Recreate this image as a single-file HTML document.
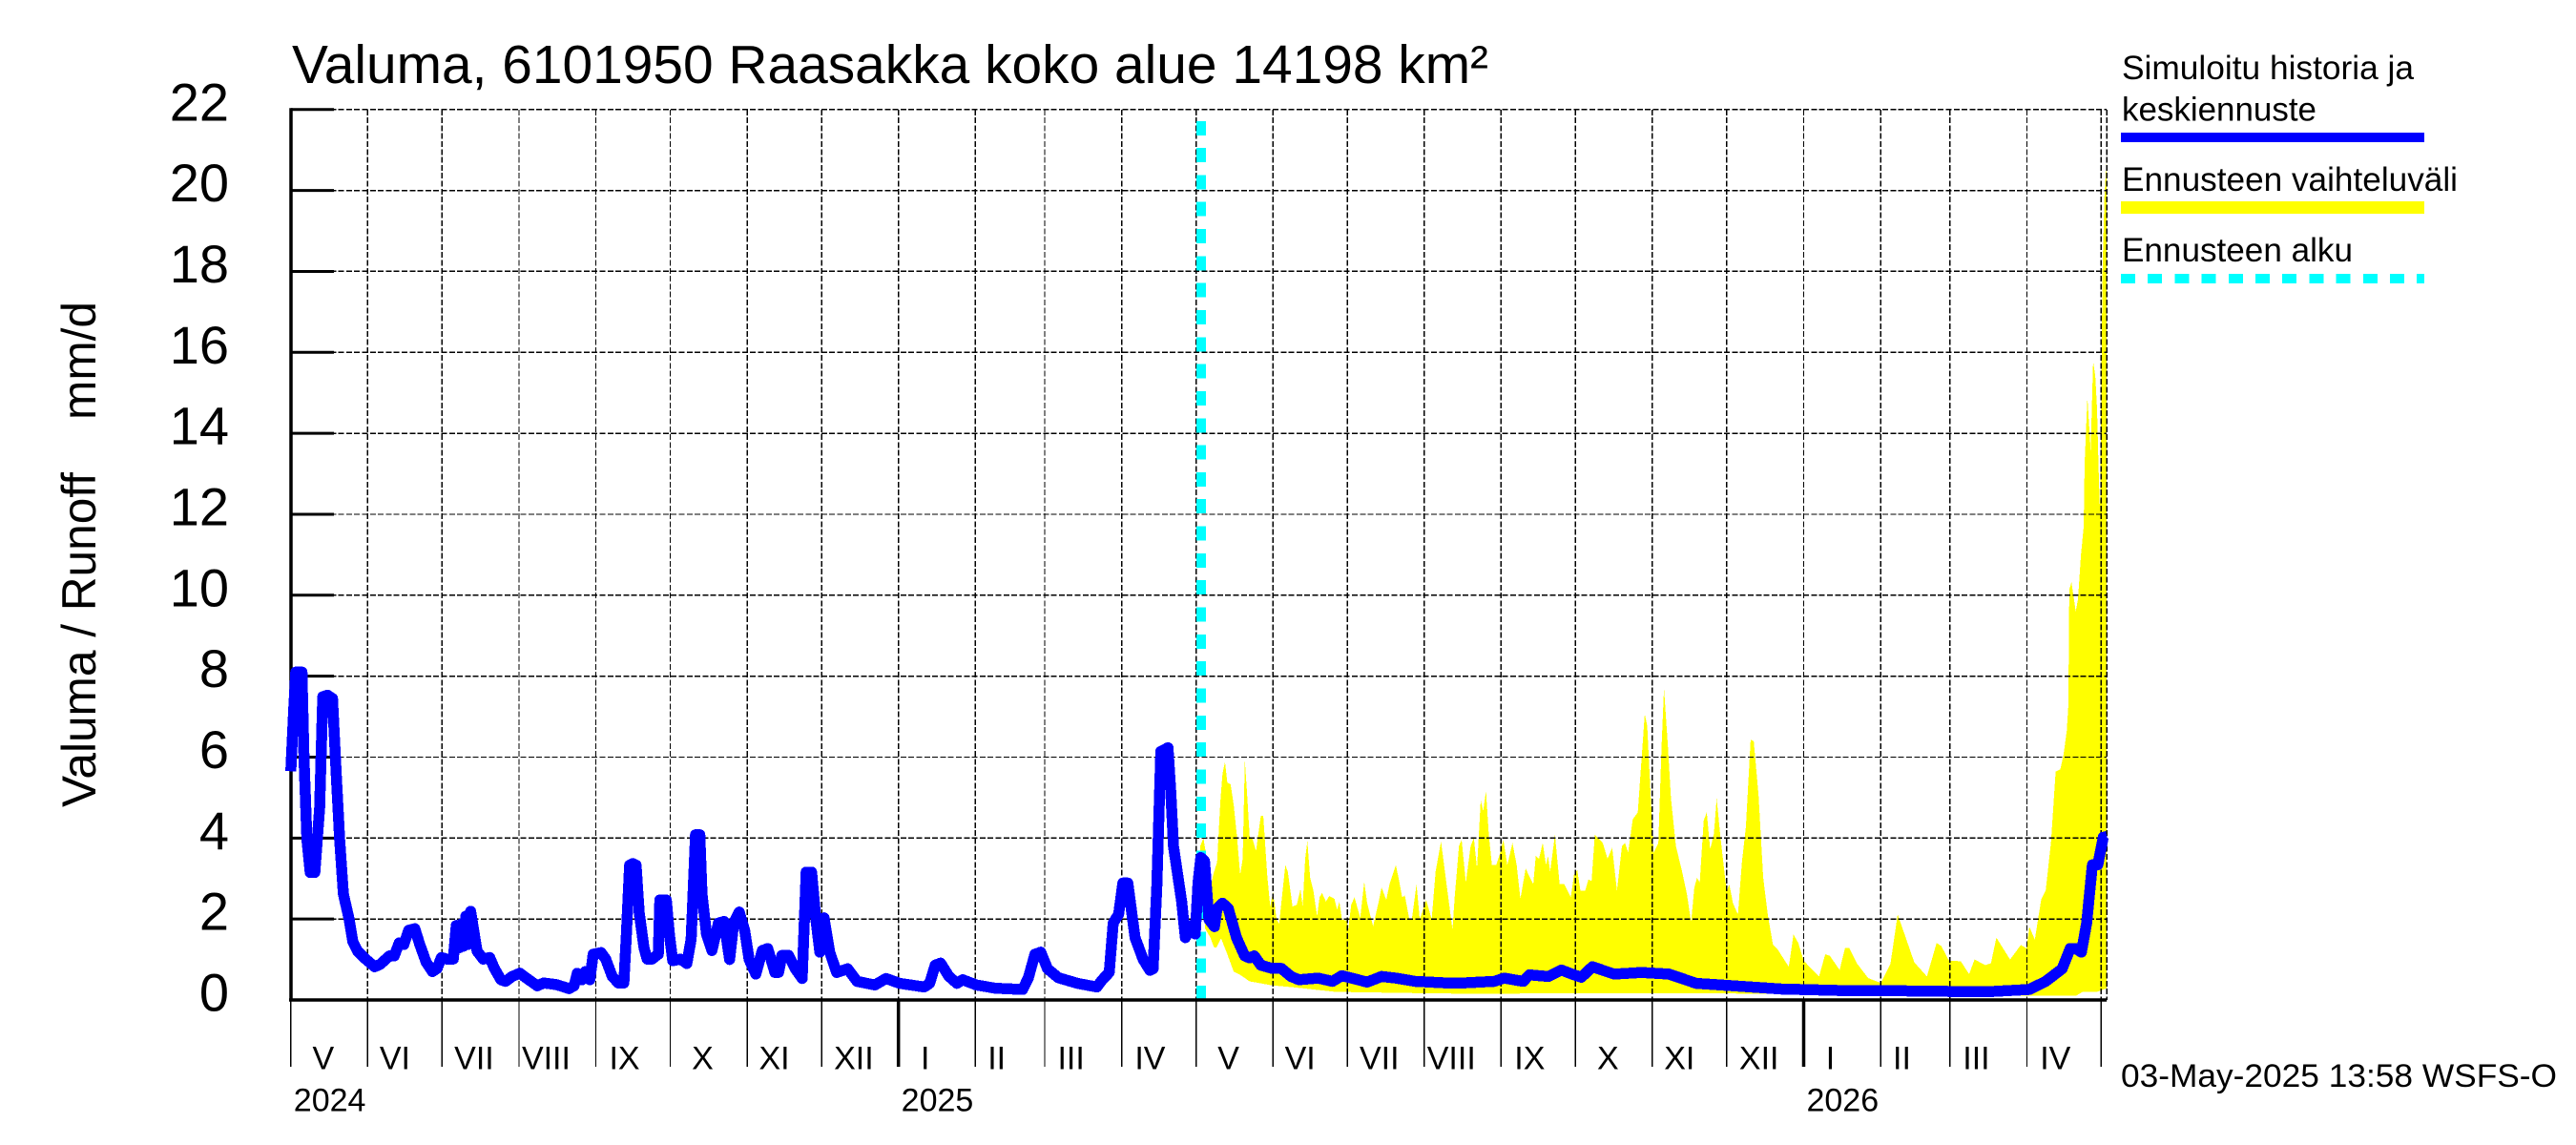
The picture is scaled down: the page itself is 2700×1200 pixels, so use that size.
<!DOCTYPE html>
<html lang="fi">
<head>
<meta charset="utf-8">
<title>Valuma 6101950 Raasakka</title>
<style>
html,body{margin:0;padding:0;background:#fff;width:2700px;height:1200px;overflow:hidden}
svg{display:block;position:absolute;left:0;top:0}
text{font-family:"Liberation Sans",Arial,sans-serif;fill:#000;white-space:pre}
</style>
</head>
<body>
<svg id="chart" xmlns="http://www.w3.org/2000/svg" width="2700" height="1200" viewBox="0 0 2700 1200">
  <rect x="0" y="0" width="2700" height="1200" fill="#fff"/>
  <text x="306" y="87" font-size="56.6" textLength="1254" lengthAdjust="spacingAndGlyphs">Valuma, 6101950 Raasakka koko alue 14198 km²</text>
  <text transform="translate(100,846) rotate(-90)" font-size="50" textLength="530" lengthAdjust="spacingAndGlyphs" xml:space="preserve">Valuma / Runoff    mm/d</text>
  <g id="forecast-layer"></g>
  <g id="grid-layer"></g>
  <g id="start-layer"></g>
  <g id="axis-layer"></g>
  <g id="runoff-layer"></g>
  <g>
    <text x="2224" y="83" font-size="35" textLength="306" lengthAdjust="spacingAndGlyphs">Simuloitu historia ja</text>
    <text x="2224" y="126.5" font-size="35" textLength="204" lengthAdjust="spacingAndGlyphs">keskiennuste</text>
    <rect x="2223" y="139" width="318" height="10" fill="#0000ff"/>
    <text x="2224" y="200" font-size="35" textLength="352" lengthAdjust="spacingAndGlyphs">Ennusteen vaihteluväli</text>
    <rect x="2223" y="211" width="318" height="13" fill="#ffff00"/>
    <text x="2224" y="274" font-size="35" textLength="242" lengthAdjust="spacingAndGlyphs">Ennusteen alku</text>
    <line x1="2223" y1="292" x2="2541" y2="292" stroke="#00ffff" stroke-width="10" stroke-dasharray="15 13.2" shape-rendering="crispEdges"/>
  </g>
  <text x="2223" y="1139" font-size="34" textLength="457" lengthAdjust="spacingAndGlyphs">03-May-2025 13:58 WSFS-O</text>
</svg>
<script>
const yTicks = [0,2,4,6,8,10,12,14,16,18,20,22];
const monthLabels = ["V","VI","VII","VIII","IX","X","XI","XII","I","II","III","IV","V","VI","VII","VIII","IX","X","XI","XII","I","II","III","IV"];
const monthStartDays = [0,31,61,92,123,153,184,214,245,276,304,335,365,396,426,457,488,518,549,579,610,641,669,700,730];
const yearLabels = ["2024","2025","2026"];
const yearStartDays = [0,245,610];
const lastDay = 732;
const forecastStartDay = 367;

const runoffDays = [0,1.2,2,4.5,5.3,6.5,7.8,9.7,11.6,12.9,14.8,16.8,18.4,19.7,21.2,23.5,25,27,30.2,33.8,36,39.8,41.7,43.7,45.6,47.5,50,52,54.6,57.1,59,60.7,62.9,65.5,66.7,68,68.7,69.7,70.6,71.5,72.5,75.1,77.6,80.2,82.1,84.7,86.6,89.2,92.4,95,99.4,102,107.1,112.2,114.2,115.5,117.4,118.7,120.6,121.9,125.1,127,129.6,132.1,134.3,135.3,136.6,137.9,139.2,140.5,142.4,143.7,145.6,148.2,148.8,151.4,152.7,154,157.1,159.7,161.4,163.2,164.9,165.8,167.6,169.8,172.4,174.7,176.9,178.6,180.8,183,184.8,187.5,190.1,192.3,195.2,196.7,198,200.7,203.4,206.2,207.8,210,211.7,213.3,215,217.3,220.1,224.5,228.3,235.5,240,245.5,255.4,257.6,259.8,262,265.3,268.6,270.9,276.4,284.1,295.1,297.4,300,302.4,305.1,309.5,317.2,325,327.2,330,331.6,333.8,335.5,337.5,340.4,343.7,346.4,347.7,349.2,350.8,353.7,354.8,355.9,359.2,360.7,363.6,364.7,365.8,366.9,368.4,370.2,372.4,373.5,375.7,378,381.3,384.6,386.6,388.5,391.1,395.6,399.4,403.3,406.5,414.2,420,423.8,434,439.8,445.6,453.3,466.1,472.5,485.3,489.2,496.9,499.4,507.1,512.3,517.4,520.4,524.8,533.6,544.6,555.7,566.7,579,600.8,626.4,641.3,671.3,683.3,701,707.6,714.2,717.5,719.7,722,724.1,726.4,728.6,730.8,732.3];
const runoffValues = [5.65,7.2,8.1,8.1,6,3.96,3.15,3.15,4.74,7.49,7.53,7.45,5.5,3.96,2.62,2,1.44,1.2,1.01,0.82,0.88,1.09,1.09,1.41,1.37,1.72,1.76,1.37,0.93,0.7,0.78,1.05,1.01,1.01,1.84,1.29,1.88,1.33,2.07,1.37,2.19,1.21,1.01,1.05,0.78,0.5,0.46,0.58,0.66,0.54,0.35,0.42,0.38,0.28,0.35,0.66,0.5,0.7,0.5,1.13,1.17,1.01,0.58,0.42,0.42,1.6,3.33,3.37,3.33,2.15,1.29,1.01,1.01,1.13,2.47,2.47,1.6,0.97,1.01,0.9,1.5,4.08,4.08,2.62,1.63,1.22,1.9,1.94,1,1.9,2.17,1.72,1,0.64,1.22,1.27,0.68,0.68,1.1,1.1,0.77,0.53,3.16,3.16,2,1.18,2.03,1.18,0.68,0.77,0.46,0.37,0.53,0.41,0.32,0.41,0.86,0.91,0.59,0.41,0.5,0.37,0.29,0.26,0.55,1.13,1.18,0.77,0.55,0.41,0.32,0.5,0.68,1.9,2.12,2.89,2.89,1.54,1,0.73,0.77,2.8,6.14,6.23,5.15,3.79,2.44,1.54,1.85,1.63,2.89,3.52,3.43,1.99,1.81,2.26,2.39,2.26,1.54,1.09,1.04,1.09,0.86,0.78,0.78,0.58,0.5,0.54,0.46,0.6,0.44,0.58,0.54,0.46,0.42,0.42,0.46,0.54,0.46,0.62,0.58,0.74,0.62,0.56,0.82,0.64,0.68,0.64,0.41,0.36,0.27,0.23,0.23,0.21,0.2,0.26,0.46,0.77,1.27,1.27,1.18,1.9,3.34,3.34,4.02,4.04];

const upperDays = [366.7,368,369.3,370.6,371.9,373.5,374.8,375.7,376.7,377.6,378.9,380.2,381.5,382.8,383.8,384.7,385.6,386.6,387.9,389.2,391.1,392.1,393.7,394.9,396,397.5,398.5,399.4,401,402,403.9,405.6,407.1,408,409,409.9,411,412.3,413.8,414.8,415.8,417.4,418.7,420.8,421.9,422.8,423.8,425.7,426.4,427.6,428.9,431.2,432.8,434,436.4,438.5,439.8,441.7,443,445.6,446.9,448.1,449.2,451,452,453.9,455.2,457.8,460,461.6,463.8,465.5,468.4,469.3,471,472.1,473.8,475.7,477,478.3,479.8,480.8,481.9,483,484.3,486,487.3,488.9,490.5,492.6,494.3,495.8,497.9,499.4,501,502,503.3,504.8,506.1,506.9,507.8,509.7,511.6,513.5,516.1,517.4,518.7,520,521.9,523.2,524.5,525.8,529,530.9,532.8,534.7,536.7,538,539.2,541.1,543.1,544.4,545.9,546.9,548.2,549.5,551.4,552.7,553.7,555.3,556.5,558.5,561,562.9,564.6,565.9,567,568.1,569.7,570.9,572.3,573.8,574.9,576.4,578.3,579,580,581.5,583.5,585.1,586.7,588.6,589.9,591.8,593.7,595.6,597.6,599.5,604,605.9,607.8,610,616.2,618.7,620.6,624.5,626.7,628.3,631.5,636,641.1,645,647.9,650.8,654.6,659.7,663.6,665.5,668.7,671.3,673.4,676.7,678.9,683.3,685.5,687.7,693.2,697.6,699.9,701,703.2,705.8,707.6,709.7,711.6,713.5,714.8,716.1,716.7,717.1,718,719.7,720.6,721.8,722.9,723.3,724.4,725.7,726.7,727.6,728.3,728.9,729.5,730.5,731.3,732.2];
const upperValues = [3.8,4,3.49,2.7,3.09,3.41,4.9,5.6,5.88,5.37,5.33,4.82,4.04,3.09,3.49,5.92,5.06,4.04,3.96,3.68,4.55,4.55,3.09,2.31,2.66,1.99,1.88,2.39,3.33,3.17,2.31,2.35,2.74,2.31,3.49,3.92,3.02,2.7,2.07,2.54,2.64,2.43,2.57,2.5,2.23,2.43,1.99,1.96,1.76,2.35,2.54,2.03,2.92,2.39,1.82,2.39,2.78,2.47,2.86,3.33,2.94,2.54,2.58,1.99,1.99,2.86,1.99,2.47,1.99,3.17,3.92,3.09,1.74,2.54,3.8,3.96,2.9,3.8,4,3.25,4.94,4.66,5.17,4.11,3.33,3.33,3.56,3.96,3.33,3.88,3.33,2.5,3.25,3.05,2.86,3.56,3.49,3.88,3.33,3.56,3.17,4.08,2.86,2.86,2.54,3.09,3.21,2.7,2.7,2.98,2.94,4.08,3.88,3.49,3.76,2.7,3.8,3.88,3.64,4.47,4.63,5.76,7.06,6.78,5.21,3.64,3.88,6.23,7.7,6.23,4.98,3.8,3.17,2.62,1.92,2.78,3.02,2.9,4.43,4.64,3.72,4.11,4.98,4.04,3.02,2.7,2.86,2.39,2.11,3.41,4.27,6.43,6.39,5.06,3.02,2.07,1.37,1.25,0.82,1.62,1.41,0.97,0.58,1.13,1.09,0.74,1.29,1.29,0.9,0.54,0.42,0.9,2.11,1.6,0.93,0.58,1.41,1.33,0.96,0.97,0.95,0.64,1,0.86,0.91,1.54,1,1.36,1.27,1.81,1.49,2.49,2.71,3.89,5.64,5.7,6.06,6.66,7.26,10.14,10.32,9.6,9.9,10.99,11.7,13.27,14.89,13.57,15.79,15.4,14.6,13.15,12,18,19.9,20.8];

const lowerDays = [366.7,368.7,370.6,372.3,373.1,375.1,377.6,380.2,382.8,386.6,395.6,404.6,421.2,453.3,478.9,517.4,560,600,640,690,710,720,722.5,728.3,732.2];
const lowerValues = [3.3,1.76,1.56,1.3,1.29,1.52,1.13,0.7,0.62,0.46,0.36,0.31,0.2,0.17,0.15,0.17,0.17,0.15,0.13,0.11,0.11,0.11,0.2,0.2,0.29];

const SVG_NS = "http://www.w3.org/2000/svg";
function xAxis(day){ return 304.8 + day * 2.5995; }
function yAxis(value){ return 1048 - value * 42.42; }
const monthLabelOffsets = {V:34,VI:28.5,VII:33.6,VIII:28.5,IX:30,X:34,XI:28.4,XII:33.8,I:28,II:22.4,III:27.6,IV:29.8};

function make(tag, parent){
  const el = document.createElementNS(SVG_NS, tag);
  parent.appendChild(el);
  return el;
}
const forecastLayer = document.getElementById("forecast-layer");
const gridLayer = document.getElementById("grid-layer");
const startLayer = document.getElementById("start-layer");
const axisLayer = document.getElementById("axis-layer");
const runoffLayer = document.getElementById("runoff-layer");
const DAY_END = lastDay + 0.2;

/* forecast range */
const rangePts = [];
upperDays.forEach(function(d,i){ rangePts.push(xAxis(d).toFixed(1)+","+yAxis(upperValues[i]).toFixed(1)); });
for(let i = lowerDays.length-1; i >= 0; i--){ rangePts.push(xAxis(lowerDays[i]).toFixed(1)+","+yAxis(lowerValues[i]).toFixed(1)); }
const rangePoly = make("polygon", forecastLayer);


rangePoly.setAttribute("points", rangePts.join(" "));
rangePoly.setAttribute("fill", "#ffff00");
rangePoly.setAttribute("shape-rendering", "crispEdges");

/* grid */
yTicks.forEach(function(v){
  const g = make("line", gridLayer);
  
  
  g.setAttribute("x1", xAxis(0));
  g.setAttribute("x2", xAxis(DAY_END));
  g.setAttribute("y1", yAxis(v));
  g.setAttribute("y2", yAxis(v));
  g.setAttribute("stroke", "#000");
  g.setAttribute("stroke-width", "1.4");
  g.setAttribute("stroke-dasharray", "6 2.3");
  g.setAttribute("shape-rendering", "crispEdges");
});
monthStartDays.concat([DAY_END]).forEach(function(d){
  const g = make("line", gridLayer);
  
  
  g.setAttribute("x1", xAxis(d));
  g.setAttribute("x2", xAxis(d));
  g.setAttribute("y1", yAxis(22));
  g.setAttribute("y2", yAxis(0));
  g.setAttribute("stroke", "#000");
  g.setAttribute("stroke-width", "1.4");
  g.setAttribute("stroke-dasharray", "6 2.3");
  g.setAttribute("shape-rendering", "crispEdges");
});

/* forecast start marker */
const startLine = make("line", startLayer);


startLine.setAttribute("x1", xAxis(forecastStartDay));
startLine.setAttribute("x2", xAxis(forecastStartDay));
startLine.setAttribute("y1", yAxis(0));
startLine.setAttribute("y2", "126.7");
startLine.setAttribute("stroke", "#00ffff");
startLine.setAttribute("stroke-width", "10");
startLine.setAttribute("stroke-dasharray", "15 13.32");
startLine.setAttribute("shape-rendering", "crispEdges");

/* axes */
const yAxisLine = make("line", axisLayer);


yAxisLine.setAttribute("x1", "305");
yAxisLine.setAttribute("x2", "305");
yAxisLine.setAttribute("y1", yAxis(22) - 1.5);
yAxisLine.setAttribute("y2", yAxis(0) + 1.5);
yAxisLine.setAttribute("stroke", "#000");
yAxisLine.setAttribute("stroke-width", "3.5");
const xAxisLine = make("line", axisLayer);


xAxisLine.setAttribute("x1", "303");
xAxisLine.setAttribute("x2", xAxis(DAY_END));
xAxisLine.setAttribute("y1", yAxis(0));
xAxisLine.setAttribute("y2", yAxis(0));
xAxisLine.setAttribute("stroke", "#000");
xAxisLine.setAttribute("stroke-width", "3.5");

yTicks.forEach(function(v){
  const t = make("line", axisLayer);
  
  
  t.setAttribute("x1", "305");
  t.setAttribute("x2", "350");
  t.setAttribute("y1", yAxis(v));
  t.setAttribute("y2", yAxis(v));
  t.setAttribute("stroke", "#000");
  t.setAttribute("stroke-width", "3");
  const l = make("text", axisLayer);
  
  
  l.setAttribute("x", "240");
  l.setAttribute("y", yAxis(v) + 11.5);
  l.setAttribute("text-anchor", "end");
  l.setAttribute("font-size", "56");
  l.textContent = String(v);
});
monthStartDays.forEach(function(d){
  const t = make("line", axisLayer);
  
  
  t.setAttribute("x1", xAxis(d));
  t.setAttribute("x2", xAxis(d));
  t.setAttribute("y1", yAxis(0));
  t.setAttribute("y2", "1118");
  t.setAttribute("stroke", "#000");
  t.setAttribute("stroke-width", "1.4");
  t.setAttribute("shape-rendering", "crispEdges");
});
monthLabels.forEach(function(label,i){
  const l = make("text", axisLayer);
  
  
  l.setAttribute("x", xAxis(monthStartDays[i]) + monthLabelOffsets[label]);
  l.setAttribute("y", "1120.5");
  l.setAttribute("text-anchor", "middle");
  l.setAttribute("font-size", "34");
  l.textContent = label;
});
yearLabels.forEach(function(label,i){
  if(i > 0){
    const t = make("line", axisLayer);
    
    
    t.setAttribute("x1", xAxis(yearStartDays[i]));
    t.setAttribute("x2", xAxis(yearStartDays[i]));
    t.setAttribute("y1", yAxis(0));
    t.setAttribute("y2", "1118");
    t.setAttribute("stroke", "#000");
    t.setAttribute("stroke-width", "3.5");
  }
  const l = make("text", axisLayer);
  
  
  l.setAttribute("x", xAxis(yearStartDays[i]) + 3);
  l.setAttribute("y", "1164.5");
  l.setAttribute("font-size", "34");
  l.textContent = label;
});

/* runoff line */
const runoffPts = runoffDays.map(function(d,i){ return xAxis(d).toFixed(1)+","+yAxis(runoffValues[i]).toFixed(1); });
const runoffLine = make("polyline", runoffLayer);


runoffLine.setAttribute("points", runoffPts.join(" "));
runoffLine.setAttribute("fill", "none");
runoffLine.setAttribute("stroke", "#0000ff");
runoffLine.setAttribute("stroke-width", "11.5");
runoffLine.setAttribute("stroke-linejoin", "round");
runoffLine.setAttribute("stroke-linecap", "butt");
runoffLine.setAttribute("shape-rendering", "crispEdges");
</script>
</body>
</html>
